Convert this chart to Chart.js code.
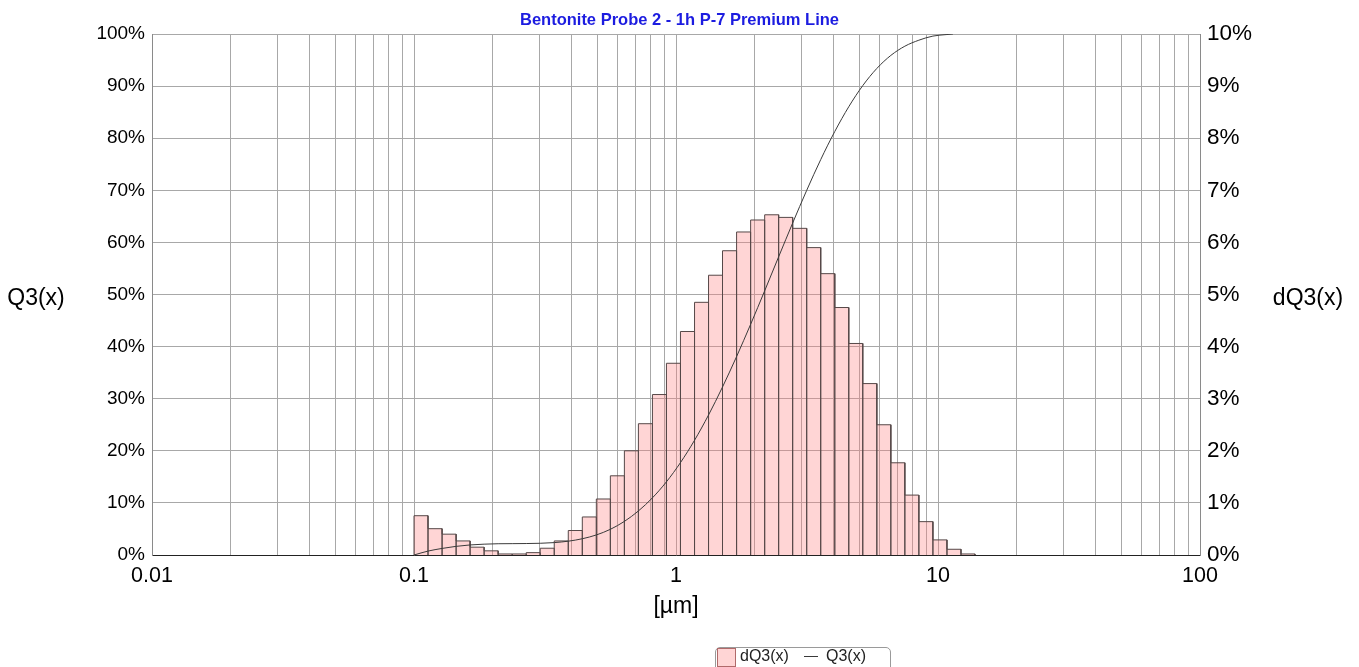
<!DOCTYPE html>
<html><head><meta charset="utf-8">
<script src="https://cdn.jsdelivr.net/npm/chart.js@4.4.1/dist/chart.umd.min.js"></script>
<style>
html,body{margin:0;padding:0;background:#fff;overflow:hidden}
#wrap{position:relative;width:1359px;height:667px;font-family:"Liberation Sans",Arial,sans-serif}
canvas{position:absolute;left:0;top:0}
.ylab{position:absolute;transform:translate(-50%,-50%);line-height:1;font-size:23px;color:#000;white-space:nowrap}
#legend{position:absolute;left:715px;top:647px;width:176px;height:34px;border:1px solid #9a9a9a;border-radius:5px;box-sizing:border-box;font-size:16px;color:#222;background:#fff}
#legend span{position:absolute;white-space:nowrap;line-height:16px}
</style></head><body>
<div id="wrap">
<canvas id="c" width="1359" height="667"></canvas>
<div class="ylab" id="lblL" style="left:36px;top:297px"></div>
<div class="ylab" id="lblR" style="left:1308px;top:297px"></div>
<div id="legend"></div>
</div>
<script>
const chartTitle = "Bentonite Probe 2 - 1h P-7 Premium Line";
const xAxisTitle = "[µm]";
const leftAxisTitle = "Q3(x)";
const rightAxisTitle = "dQ3(x)";
const xTickValues = [0.01, 0.1, 1, 10, 100];
const xTickLabels = ["0.01", "0.1", "1", "10", "100"];
const leftTicks = [0, 10, 20, 30, 40, 50, 60, 70, 80, 90, 100];
const rightTicks = [0, 1, 2, 3, 4, 5, 6, 7, 8, 9, 10];

// histogram class edges [µm] and class fractions dQ3 [%]
const binEdges = [0.1, 0.1131, 0.1280, 0.1448, 0.1637, 0.1852, 0.2095, 0.2370, 0.2681, 0.3032,
  0.3430, 0.3880, 0.4389, 0.4965, 0.5616, 0.6353, 0.7186, 0.8129, 0.9195,
  1.040, 1.177, 1.331, 1.505, 1.703, 1.927, 2.180, 2.465, 2.788, 3.154,
  3.567, 4.037, 4.565, 5.163, 5.842, 6.607, 7.473, 8.452, 9.563, 10.82,
  12.24, 13.84];
const dQ3 = [0.754, 0.505, 0.40, 0.27, 0.15, 0.08, 0.02, 0.02, 0.045, 0.13,
  0.27, 0.47, 0.73, 1.075, 1.52, 2.0, 2.52, 3.08, 3.68, 4.29,
  4.85, 5.37, 5.84, 6.2, 6.43, 6.53, 6.48, 6.27, 5.9, 5.4,
  4.75, 4.06, 3.29, 2.5, 1.77, 1.15, 0.64, 0.29, 0.11, 0.02];

// cumulative curve Q3 [%]
const q3Sizes = [0.1, 0.1131, 0.1280, 0.1448, 0.1637, 0.1852, 0.2095, 0.2370, 0.2681, 0.3032,
  0.3430, 0.3880, 0.4389, 0.4965, 0.5616, 0.6353, 0.7186, 0.8129, 0.9195,
  1.040, 1.177, 1.331, 1.505, 1.703, 1.927, 2.180, 2.465, 2.788, 3.154,
  3.567, 4.037, 4.565, 5.163, 5.842, 6.607, 7.473, 8.452, 9.563, 10.82, 11.4];
const q3Values = [0, 0.75, 1.26, 1.66, 1.93, 2.08, 2.16, 2.18, 2.20, 2.25,
  2.38, 2.65, 3.12, 3.85, 4.93, 6.45, 8.45, 10.97, 14.05, 17.73,
  22.02, 26.87, 32.24, 38.08, 44.28, 50.71, 57.24, 63.72, 69.99, 75.89,
  81.29, 86.04, 90.10, 93.39, 95.89, 97.66, 98.81, 99.6, 99.9, 100];

const FONT = "'Liberation Sans', Arial, sans-serif";
const GRID = '#a8a8a8';
const BAR_FILL = 'rgba(255,128,128,0.33)';
const BAR_LINE = '#564848';
const Q3_LINE = '#3a3a3a';

// build histogram outline points from the class edges
const histPoints = [{x: binEdges[0], y: 0}];
for (let i = 0; i < dQ3.length; i++) {
  histPoints.push({x: binEdges[i], y: dQ3[i]}, {x: binEdges[i + 1], y: dQ3[i]}, {x: binEdges[i + 1], y: 0});
}
const q3Points = q3Sizes.map((s, i) => ({x: s, y: q3Values[i]}));

// log grid positions 1..9 x 10^n
function logGrid() {
  const t = [];
  for (let d = 0; d < xTickValues.length - 1; d++) {
    for (let m = 1; m <= 9; m++) t.push({value: +(xTickValues[d] * m).toPrecision(6)});
  }
  t.push({value: xTickValues[xTickValues.length - 1]});
  return t;
}

document.getElementById('lblL').textContent = leftAxisTitle;
document.getElementById('lblR').textContent = rightAxisTitle;

const chart = new Chart(document.getElementById('c'), {
  type: 'line',
  data: {
    datasets: [
      {label: 'Q3(x)', data: q3Points, yAxisID: 'yL', borderColor: Q3_LINE, borderWidth: 1,
        pointRadius: 0, fill: false, cubicInterpolationMode: 'monotone', order: 0},
      {label: 'dQ3(x)', data: histPoints, yAxisID: 'yR', borderColor: BAR_LINE, borderWidth: 1,
        backgroundColor: BAR_FILL, pointRadius: 0, fill: 'origin', tension: 0, order: 1}
    ]
  },
  options: {
    responsive: false, animation: false, events: [],
    layout: {padding: 0},
    plugins: {
      legend: {display: false},
      tooltip: {enabled: false},
      title: {display: true, text: chartTitle, color: '#1c1ce0',
        font: {family: FONT, size: 16.5, weight: 'bold', lineHeight: 1.2},
        padding: {top: 10.4, bottom: 3.8}}
    },
    scales: {
      x: {
        type: 'logarithmic', position: 'bottom', min: xTickValues[0], max: xTickValues[xTickValues.length - 1],
        afterBuildTicks: s => { s.ticks = logGrid(); },
        grid: {color: GRID, lineWidth: 1, drawTicks: false},
        border: {color: '#222', width: 1},
        ticks: {autoSkip: false, maxRotation: 0, padding: 8, color: '#000', font: {family: FONT, size: 21.5},
          callback: (v) => {
            const k = xTickValues.findIndex(t => Math.abs(t - v) / t < 1e-6);
            return k >= 0 ? xTickLabels[k] : '';
          }},
        title: {display: true, text: xAxisTitle, color: '#000', font: {family: FONT, size: 23, lineHeight: 1.2},
          padding: {top: 0, bottom: 47}},
        afterFit: s => { s.height = 112; }
      },
      yL: {
        type: 'linear', position: 'left', min: leftTicks[0], max: leftTicks[leftTicks.length - 1],
        afterBuildTicks: s => { s.ticks = leftTicks.map(v => ({value: v})); },
        ticks: {padding: 7, color: '#000', font: {family: FONT, size: 19}, callback: v => v + '%'},
        grid: {color: GRID, lineWidth: 1, drawTicks: false},
        border: {color: '#8a8a8a', width: 1},
        afterFit: s => { s.width = 152; }
      },
      yR: {
        type: 'linear', position: 'right', min: rightTicks[0], max: rightTicks[rightTicks.length - 1],
        afterBuildTicks: s => { s.ticks = rightTicks.map(v => ({value: v})); },
        ticks: {padding: 7, color: '#000', font: {family: FONT, size: 22.5}, callback: v => v + '%'},
        grid: {drawOnChartArea: false, drawTicks: false},
        border: {color: '#8a8a8a', width: 1},
        afterFit: s => { s.width = 159; }
      }
    }
  }
});

// legend built from the chart's datasets
(function () {
  const lg = document.getElementById('legend');
  const h = chart.data.datasets[1], q = chart.data.datasets[0];
  lg.innerHTML =
    '<span style="left:1px;top:0px;width:19px;height:19px;box-sizing:border-box;background:' + h.backgroundColor +
    ';border:1px solid #b06a6a"></span>' +
    '<span style="left:24px;top:0px">' + h.label + '</span>' +
    '<span style="left:88px;top:8px;width:14px;height:1px;background:' + q.borderColor + '"></span>' +
    '<span style="left:110px;top:0px">' + q.label + '</span>';
})();
</script>
</body></html>
